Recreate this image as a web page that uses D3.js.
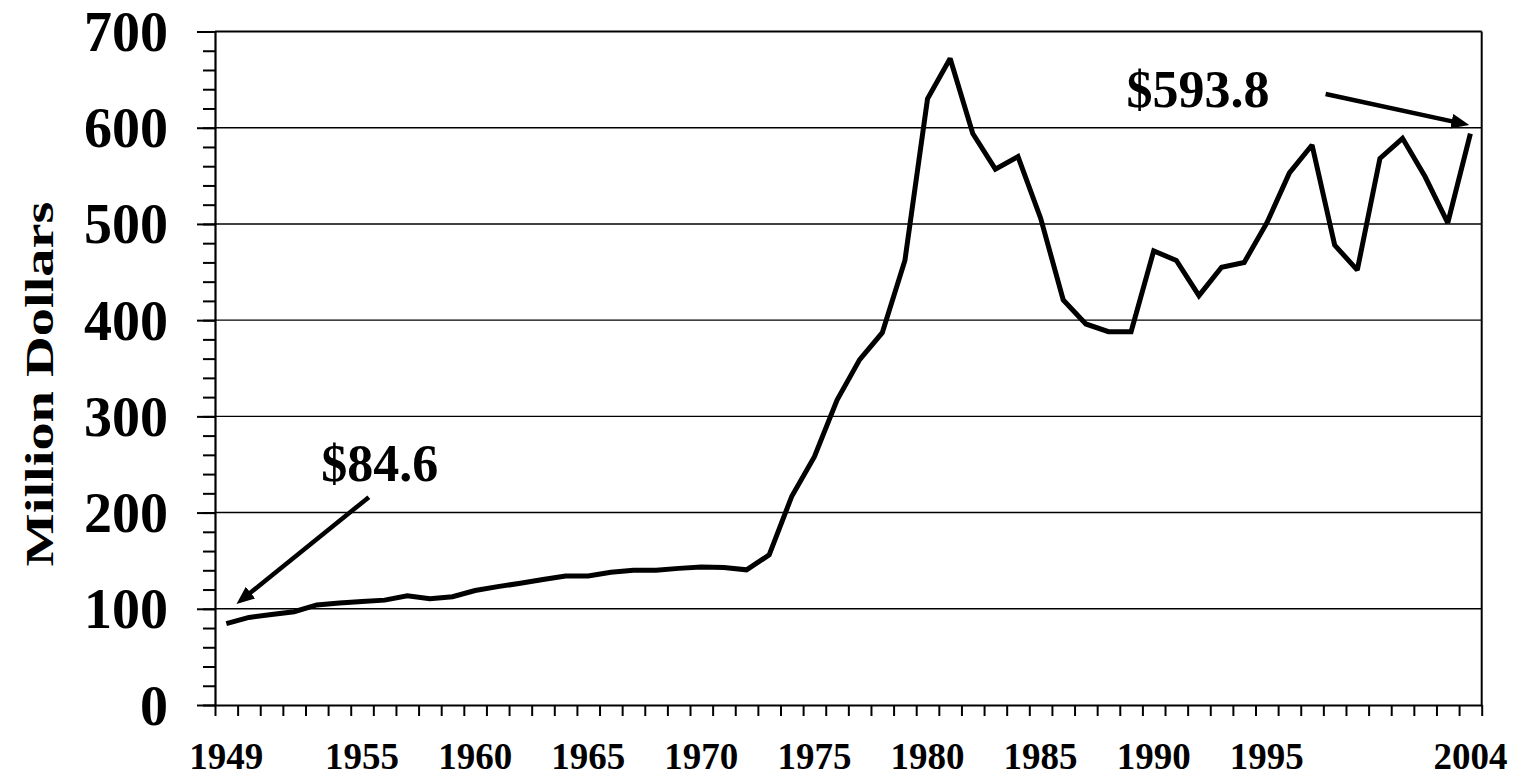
<!DOCTYPE html>
<html><head><meta charset="utf-8">
<script src="https://cdn.jsdelivr.net/npm/d3@7"></script>
<style>body{margin:0;background:#fff}svg{display:block}</style>
</head><body><svg id="c" width="1516" height="777"></svg>
<script>
const years = [1949,1950,1951,1952,1953,1954,1955,1956,1957,1958,1959,1960,1961,1962,1963,1964,1965,1966,1967,1968,1969,1970,1971,1972,1973,1974,1975,1976,1977,1978,1979,1980,1981,1982,1983,1984,1985,1986,1987,1988,1989,1990,1991,1992,1993,1994,1995,1996,1997,1998,1999,2000,2001,2002,2003,2004];
const values = [84.6,91,94,97,104,106,107.5,109,113.5,110.5,112.5,119,123,126.5,130.5,134,134,138,140,140,142,143.5,143,140.5,156,217,258,317,359,387,462,630,672,594,557,570,506,421,396,388,388,472,462,425.5,455,460,501,553,582,478,452,568,589,549,501,593.8];
const xTickLabels = [1949,1955,1960,1965,1970,1975,1980,1985,1990,1995,2004];
const yMajorTicks = [0,100,200,300,400,500,600,700];
const yMinorTicks = [0,20,40,60,80,100,120,140,160,180,200,220,240,260,280,300,320,340,360,380,400,420,440,460,480,500,520,540,560,580,600,620,640,660,680,700];
const gridValues = [100,200,300,400,500,600];
const annotations = [
  {label:"$84.6", labelAt:[1953.2,232.6], tail:[1955.3,216], tip:[1949.45,105]},
  {label:"$593.8", labelAt:[1988.8,622], tail:[1997.6,635], tip:[2003.95,602.8]}
];

const L=215, R=1481.7, T=31.5, B=705;
const FONT = "'Liberation Serif','Times New Roman',Times,serif";
const svg = d3.select("#c");

const x = d3.scaleBand().domain(years).range([L,R]).padding(0);
const xEdge = d3.scaleLinear().domain([0, years.length]).range([L,R]);
const xL = d3.scaleLinear().domain([years[0]-0.5, years[years.length-1]+0.5]).range([L,R]);
const y = d3.scaleLinear().domain([0,700]).range([B,T]);

// gridlines
svg.append("g").selectAll("line").data(gridValues).join("line")
  .attr("x1",L).attr("x2",R).attr("y1",d=>y(d)).attr("y2",d=>y(d))
  .attr("stroke","#000").attr("stroke-width",1.4);

// top & right border
svg.append("line").attr("x1",L).attr("x2",R).attr("y1",y(700)).attr("y2",y(700)).attr("stroke","#000").attr("stroke-width",2);
svg.append("line").attr("x1",R).attr("x2",R).attr("y1",T).attr("y2",B).attr("stroke","#000").attr("stroke-width",2);

// y minor ticks
const gyMinor = svg.append("g").attr("transform",`translate(${L},0)`)
  .call(d3.axisLeft(y).tickValues(yMinorTicks).tickSize(12).tickSizeOuter(0).tickFormat(""));
gyMinor.select(".domain").remove();
gyMinor.selectAll("line").attr("stroke","#000").attr("stroke-width",2);

// y major ticks + labels
const gy = svg.append("g").attr("transform",`translate(${L},0)`)
  .call(d3.axisLeft(y).tickValues(yMajorTicks).tickSize(18).tickSizeOuter(0).tickPadding(29).tickFormat(d3.format("d")));
gy.select(".domain").attr("stroke","#000").attr("stroke-width",2.2);
gy.selectAll("line").attr("stroke","#000").attr("stroke-width",2);
gy.selectAll("text").attr("font-family",FONT).attr("font-weight","bold").attr("font-size",56).attr("fill","#000").attr("dy","0.34em");

// x ticks at category boundaries
const gxT = svg.append("g").attr("transform",`translate(0,${B})`)
  .call(d3.axisBottom(xEdge).tickValues(d3.range(0, years.length+1)).tickSize(11).tickSizeOuter(0).tickFormat(""));
gxT.select(".domain").attr("stroke","#000").attr("stroke-width",2.2);
gxT.selectAll("line").attr("stroke","#000").attr("stroke-width",2);

// x labels
const gx = svg.append("g").attr("transform",`translate(0,${B})`)
  .call(d3.axisBottom(x).tickValues(xTickLabels).tickSize(0).tickPadding(38).tickFormat(d3.format("d")));
gx.select(".domain").remove();
gx.selectAll("text").attr("font-family",FONT).attr("font-weight","bold").attr("font-size",37).attr("fill","#000");

// y title
svg.append("text").attr("transform",`translate(53,384) rotate(-90)`)
  .attr("text-anchor","middle").attr("font-family",FONT).attr("font-weight","bold").attr("font-size",39)
  .attr("textLength",365).attr("lengthAdjust","spacingAndGlyphs").text("Million Dollars");

// line
const line = d3.line().x((d,i)=>x(years[i])+x.bandwidth()/2).y(d=>y(d));
svg.append("path").datum(values).attr("d",line).attr("fill","none").attr("stroke","#000")
  .attr("stroke-width",5).attr("stroke-linejoin","miter").attr("stroke-miterlimit",2);

// annotations
svg.append("defs").append("marker").attr("id","ah").attr("viewBox","-18 -7.5 18 15")
  .attr("refX",0).attr("refY",0).attr("markerWidth",18).attr("markerHeight",15)
  .attr("markerUnits","userSpaceOnUse").attr("orient","auto")
  .append("path").attr("d","M0,0L-18,-7.5L-18,7.5Z").attr("fill","#000");

annotations.forEach(a=>{
  svg.append("text").attr("x",xL(a.labelAt[0])).attr("y",y(a.labelAt[1]))
    .attr("font-family",FONT).attr("font-weight","bold").attr("font-size",52).attr("fill","#000").text(a.label);
  const x1=xL(a.tail[0]), y1=y(a.tail[1]), x2=xL(a.tip[0]), y2=y(a.tip[1]);
  const len=Math.hypot(x2-x1,y2-y1), s=(len-8)/len;
  svg.append("line").attr("x1",x1).attr("y1",y1).attr("x2",x1+(x2-x1)*s).attr("y2",y1+(y2-y1)*s)
    .attr("stroke","#000").attr("stroke-width",4.5);
  svg.append("path").attr("d",`M${x1},${y1}L${x2},${y2}`).attr("stroke","none").attr("fill","none").attr("marker-end","url(#ah)");
});
</script></body></html>
